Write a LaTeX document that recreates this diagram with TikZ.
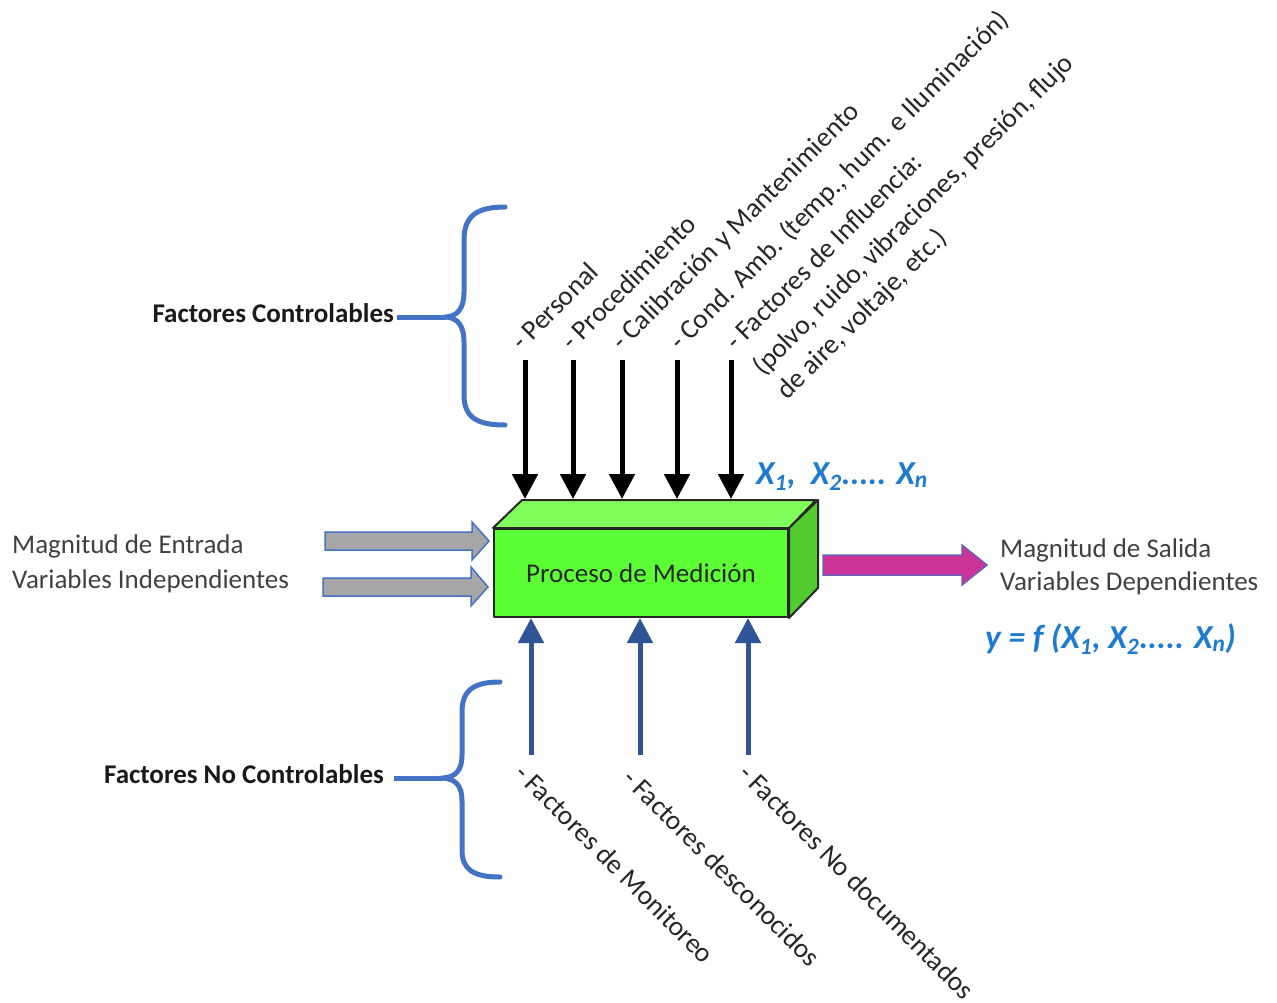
\documentclass[tikz,border=0pt]{standalone}
\usepackage{fontspec}
\setmainfont{Carlito}
\usetikzlibrary{arrows.meta,calc}
\definecolor{bracec}{HTML}{4472C4}
\definecolor{upblue}{HTML}{2F5597}
\definecolor{xblue}{HTML}{1F7BD0}
\definecolor{frontg}{HTML}{5CFF33}
\definecolor{topg}{HTML}{80FF5C}
\definecolor{sideg}{HTML}{52CC2E}
\definecolor{grayarr}{HTML}{A6A6A6}
\definecolor{magarr}{HTML}{CC3399}
\definecolor{txtgray}{HTML}{404040}
\begin{document}
\begin{tikzpicture}[x=1pt,y=-1pt,
  lbl/.style={font=\fontsize{27}{33}\selectfont, inner sep=0pt, text=txtgray},
  blbl/.style={font=\fontsize{27}{33}\selectfont\bfseries, inner sep=0pt, text=black!90},
  rlbl/.style={font=\fontsize{27.5}{33}\selectfont, inner sep=0pt, text=black!85, anchor=base west},
  xlbl/.style={font=\fontsize{33.5}{40}\selectfont\bfseries\itshape, inner sep=0pt, text=xblue, anchor=base west},
  blk/.style={line width=5pt, -{Triangle[width=25pt,length=25pt]}},
  upar/.style={line width=5pt, draw=upblue, -{Triangle[width=25pt,length=25pt]}},
  bracest/.style={draw=bracec, line width=5pt, line cap=round},
  grayblock/.style={fill=grayarr, draw=bracec, line width=1.5pt},
  magblock/.style={fill=magarr, draw=bracec!70!magarr, line width=1.5pt},
  face/.style={draw=black!85, line width=2pt, line join=round},
]
\useasboundingbox (0,0) rectangle (1277,1002);

% box
\node[face, fill=frontg, minimum width=294pt, minimum height=88pt, inner sep=0pt,
      font=\fontsize{27}{33}\selectfont, text=black!85] (box) at (641,573) {};
\draw[face, fill=topg] (box.north west) -- ++(29,-28) -- ++(294,0) -- (box.north east) -- cycle;
\draw[face, fill=sideg] (box.north east) -- ++(29,-28) -- ++(0,88) -- (box.south east) -- cycle;
\node[inner sep=0pt, font=\fontsize{27}{33}\selectfont, text=black!85] (boxtext) at (box.center) {Proceso de Medición};

% top controllable arrows
\coordinate (bk) at (0,499);
\foreach \n/\x in {1/525,2/573,3/622,4/677,5/731}{
  \coordinate (t\n) at (\x,360);
  \draw[blk] (t\n) -- (t\n |- bk);
}
% bottom uncontrollable arrows
\foreach \n/\x in {1/531,2/640,3/748}{
  \coordinate (b\n) at (\x,755);
  \draw[upar] (b\n) -- (b\n |- box.south);
}

% gray input block arrows
\draw[grayblock] (325,532) -- (472,532) -- (472,522) -- (489,541) -- (472,560) -- (472,550) -- (325,550) -- cycle;
\draw[grayblock] (323,578) -- (471,578) -- (471,567) -- (488,587) -- (471,606) -- (471,596) -- (323,596) -- cycle;
% magenta output block arrow
\draw[magblock] (823,555) -- (962,555) -- (962,545) -- (987,565) -- (962,585) -- (962,575) -- (823,575) -- cycle;

% input/output labels
\node[lbl, anchor=base west] (in1) at (12,553) {Magnitud de Entrada};
\node[lbl, anchor=base west] (in2) at (12,588) {Variables Independientes};
\node[lbl, anchor=base west] (out1) at (1000,557) {Magnitud de Salida};
\node[lbl, anchor=base west] (out2) at (1000,590) {Variables Dependientes};

% X labels
\node[xlbl] (xs) at (756,484) {X\textsubscript{1},\ \ X\textsubscript{2}..... X\textsubscript{n}};
\node[xlbl] (yf) at (985,648) {y = f (X\textsubscript{1}, X\textsubscript{2}..... X\textsubscript{n})};

% braces
\node[blbl, anchor=base east] (fc) at (394,322) {Factores Controlables};
\coordinate (tipc) at (446,317);
\draw[bracest] (505,207) .. controls (478,207) and (464,215) .. (464,240) -- (464,292)
  .. controls (464,308) and (458,316) .. (tipc)
  .. controls (458,318) and (464,326) .. (464,342) -- (464,395)
  .. controls (464,418) and (478,425) .. (505,425);
\draw[bracest, line cap=butt] (fc.east |- tipc) ++(3,0) -- (tipc);

\node[blbl, anchor=base east] (fnc) at (384,783) {Factores No Controlables};
\coordinate (tipn) at (443,778);
\draw[bracest] (500,682) .. controls (474,682) and (462,690) .. (462,712) -- (462,755)
  .. controls (462,770) and (456,777) .. (tipn)
  .. controls (456,779) and (462,786) .. (462,801) -- (462,850)
  .. controls (462,870) and (474,877) .. (500,877);
\draw[bracest, line cap=butt] (fnc.east |- tipn) ++(10,0) -- (tipn);

% rotated top labels
\node[rlbl, rotate=45] (l1) at (522,352) {- Personal};
\node[rlbl, rotate=45] (l2) at (572,352) {- Procedimiento};
\node[rlbl, rotate=45] (l3) at (622,352) {- Calibración y Mantenimiento};
\node[rlbl, rotate=45] (l4) at (680,352) {- Cond. Amb. (temp., hum. e Iluminación)};
\node[rlbl, rotate=45] (l5) at (736,352) {- Factores de Influencia:};
\node[rlbl, rotate=45] (l6) at (763,377) {(polvo, ruido, vibraciones, presión, flujo};
\node[rlbl, rotate=45] (l7) at (787,401) {de aire, voltaje, etc.)};

% rotated bottom labels
\node[rlbl, rotate=-45] (m1) at (513,775) {- Factores de Monitoreo};
\node[rlbl, rotate=-45] (m2) at (621,780) {- Factores desconocidos};
\node[rlbl, rotate=-45] (m3) at (737,775) {- Factores No documentados};
\end{tikzpicture}
\end{document}
